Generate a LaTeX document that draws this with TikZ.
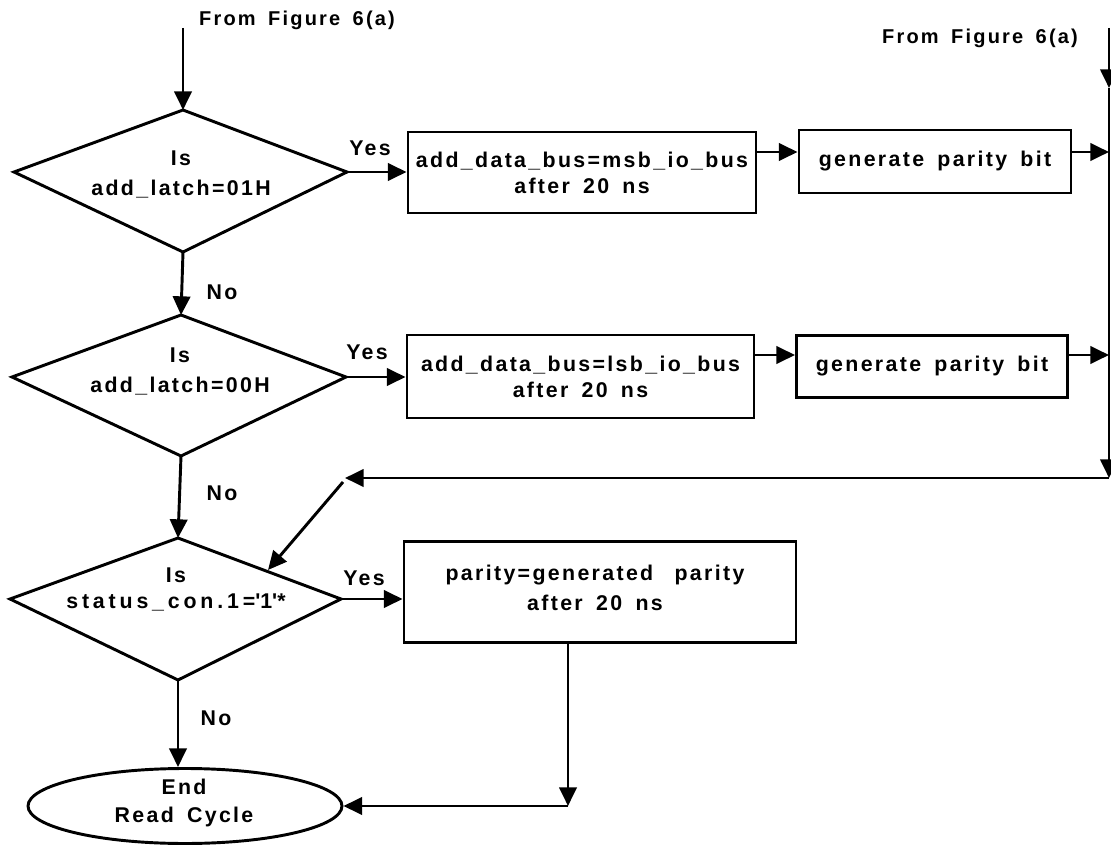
\documentclass[tikz,border=0pt]{standalone}
\usepackage{fontspec}
\setmainfont{Liberation Sans}[BoldFont={Liberation Sans Bold},LetterSpace=11,WordSpace=1.6]
\usetikzlibrary{arrows.meta,shapes.geometric}

\begin{document}
\begin{tikzpicture}[x=0.75pt,y=-0.75pt,
  line width=2.2pt,
  arr/.style={-{Triangle[length=14pt,width=13pt]}},
  txt/.style={font=\bfseries\fontsize{16}{19.5}\selectfont, align=center, inner sep=0pt},
  wide/.style={font=\bfseries\fontsize{16}{22.5}\selectfont},
  box/.style={draw, txt, rectangle},
  terminal/.style={draw, ellipse},
  head/.style={txt, font=\bfseries\fontsize{15}{18}\selectfont}
]
\useasboundingbox (0,0) rectangle (1111,845);

% decision diamonds (vertex coordinates)
\coordinate (d1t) at (183,110); \coordinate (d1r) at (347,172);
\coordinate (d1b) at (183,252); \coordinate (d1l) at (14,172);
\coordinate (d2t) at (181,315); \coordinate (d2r) at (346,377);
\coordinate (d2b) at (181,456); \coordinate (d2l) at (12,377);
\coordinate (d3t) at (178,538); \coordinate (d3r) at (341,599);
\coordinate (d3b) at (178,680); \coordinate (d3l) at (10,599);
\draw[line join=miter] (d1t) -- (d1r) -- (d1b) -- (d1l) -- cycle;
\draw[line join=miter] (d2t) -- (d2r) -- (d2b) -- (d2l) -- cycle;
\draw[line join=miter] (d3t) -- (d3r) -- (d3b) -- (d3l) -- cycle;
\node[txt, wide] (q1) at (181,174) {Is\\add\_latch=01H};
\node[txt, wide] (q2) at (180,371) {Is\\add\_latch=00H};
\node[txt] (q3) at (176,589) {Is\\\addfontfeature{LetterSpace=18}status\_con.1=\textquotesingle 1\textquotesingle *};

% process boxes
\node[box, minimum width=348*0.75pt, minimum height=81*0.75pt] (b1) at (582,172.5) {add\_data\_bus=msb\_io\_bus\\after 20 ns};
\node[box, minimum width=272*0.75pt, minimum height=63*0.75pt] (b2) at (935,161.5) {generate parity bit};
\node[box, minimum width=347*0.75pt, minimum height=83*0.75pt] (b3) at (580.5,376.5) {add\_data\_bus=lsb\_io\_bus\\after 20 ns};
\node[box, minimum width=271*0.75pt, minimum height=62*0.75pt] (b4) at (932,366.5) {generate parity bit};
\node[draw, minimum width=392*0.75pt, minimum height=101*0.75pt] (b5) at (600,592) {};
\node[txt, wide] (b5t) at (595,588) {parity=generated\hspace{16pt}parity\\after\hspace{10pt}20\hspace{10pt}ns};
\node[terminal, minimum width=314*0.75pt, minimum height=75*0.75pt] (e) at (185,806) {};
\node[txt, font=\bfseries\fontsize{16}{21}\selectfont] (et) at (184,803) {End\\Read Cycle};

% labels
\node[head] (from1) at (297,20) {From Figure 6(a)};
\node[head] (from2) at (980,38) {From Figure 6(a)};
\node[txt] (y1) at (370,148) {Yes};
\node[txt] (n1) at (222,292) {No};
\node[txt] (y2) at (367,352) {Yes};
\node[txt] (n2) at (222,493) {No};
\node[txt] (y3) at (364,578) {Yes};
\node[txt] (n3) at (216,718) {No};

% helper points for the connectors
\coordinate (in1) at (183,28);
\coordinate (in2) at (1109,28);
\coordinate (m2) at (1109,88);
\coordinate (cr) at (1109,478);
\coordinate (ret) at (345,478);
\coordinate (dg) at (343,482);
\coordinate (d3in) at (268,570);
\coordinate (r1) at (0,152);
\coordinate (r2) at (0,355);
\coordinate (k) at (568,806);

% main flow
\draw[arr] (in1) -- (d1t);
\draw[arr] (d1b) -- (d2t);
\draw[arr] (d2b) -- (d3t);
\draw[arr] (d3b) -- (d3b |- e.north);

% yes branches
\draw[arr] (d1r) -- (b1.west |- d1r);
\draw[arr] (b1.east |- r1) -- (b2.west |- r1);
\draw[arr] (b2.east |- r1) -- (m2 |- r1);
\draw[arr] (d2r) -- (b3.west |- d2r);
\draw[arr] (b3.east |- r2) -- (b4.west |- r2);
\draw[arr] (b4.east |- r2) -- (m2 |- r2);
\draw[arr] (d3r) -- (b5.west |- d3r);

% right collector line and return
\draw[arr] (in2) -- (m2);
\draw[arr] (m2) -- (cr);
\draw[arr] (cr) -- (ret);
\draw[arr] (dg) -- (d3in);

% parity box to end
\draw[arr] (b5.south -| k) -- (k);
\draw[arr] (k) -- (e.east);
\end{tikzpicture}
\end{document}
